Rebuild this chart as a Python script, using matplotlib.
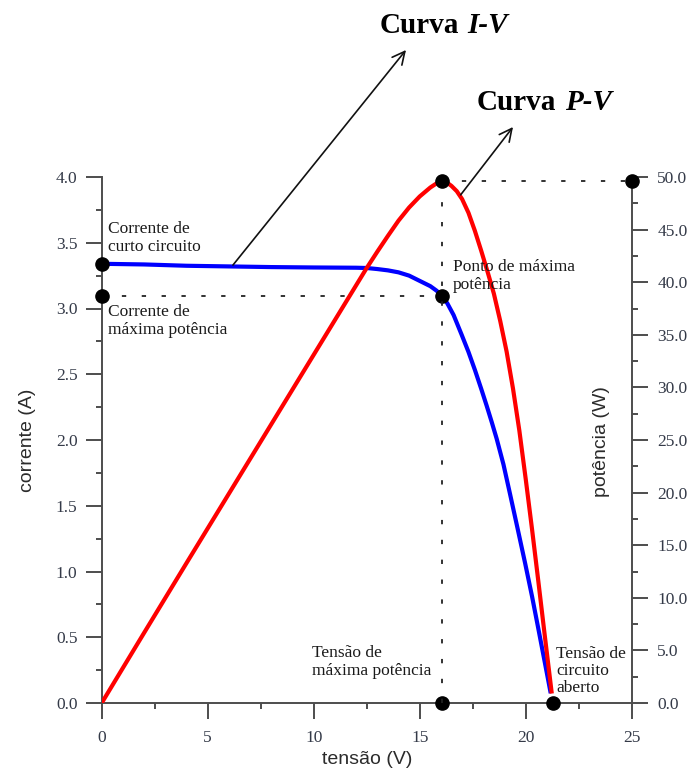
import matplotlib
matplotlib.use('Agg')
import matplotlib.pyplot as plt
from matplotlib.ticker import MultipleLocator, FormatStrFormatter

# ---- data ----
tensao_iv = [0, 2, 4, 6, 8, 10, 12, 12.5, 13, 13.5, 14, 14.5, 15, 15.5, 15.8,
             16.05, 16.3, 16.6, 16.98, 17.3, 17.61, 17.9, 18.16, 18.4, 18.63,
             18.95, 19.26, 19.6, 19.97, 20.3, 20.59, 20.9, 21.18]
corrente = [3.34, 3.335, 3.325, 3.32, 3.315, 3.312, 3.31, 3.308, 3.30, 3.29,
            3.275, 3.25, 3.21, 3.17, 3.135, 3.095, 3.04, 2.95, 2.80, 2.67,
            2.53, 2.39, 2.26, 2.135, 2.01, 1.815, 1.59, 1.34, 1.065, 0.81,
            0.57, 0.31, 0.074]

tensao_pv = [0, 2, 4, 6, 8, 10, 12, 12.5, 13, 13.5, 14, 14.5, 15, 15.5, 15.8,
             16.05, 16.3, 16.5, 16.75, 17.0, 17.3, 17.6, 17.9, 18.2, 18.5,
             18.8, 19.1, 19.4, 19.7, 20.0, 20.3, 20.6, 20.9, 21.23]
potencia = [0, 6.67, 13.3, 19.9, 26.5, 33.1, 39.7, 41.35, 42.9, 44.4, 45.85,
            47.1, 48.15, 49.0, 49.4, 49.6, 49.45, 49.15, 48.65, 47.9, 46.6,
            44.9, 43.0, 41.0, 38.9, 36.3, 33.4, 29.9, 25.9, 21.3, 16.5, 11.5,
            6.4, 0.9]

i_sc = 3.34      # corrente de curto circuito
i_mp = 3.095     # corrente de máxima potência
v_mp = 16.05     # tensão de máxima potência
p_max = 49.6     # potência máxima
v_oc = 21.28     # tensão de circuito aberto

x_ticks = [0, 5, 10, 15, 20, 25]

# ---- figure ----
W, H = 688, 772
plt.rcParams['font.family'] = ['Liberation Serif', 'DejaVu Serif']
fig = plt.figure(figsize=(W / 100, H / 100), dpi=100)

def px(x, y):
    return (x / W, 1 - y / H)

ax = fig.add_axes([101.7 / W, 1 - 703 / H, 530 / W, 526 / H])
ax.set_xlim(0, 25)
ax.set_ylim(0, 4)
ax2 = ax.twinx()
ax2.set_ylim(0, 50)

spine_c = '#4d4d4d'
label_c = '#343a48'
for a in (ax, ax2):
    for s in a.spines.values():
        s.set_visible(False)
        s.set_color(spine_c)
        s.set_linewidth(1.4)
ax.spines['left'].set_visible(True)
ax.spines['bottom'].set_visible(True)
ax2.spines['right'].set_visible(True)

ax.set_xticks(x_ticks)
ax.xaxis.set_minor_locator(MultipleLocator(2.5))
ax.yaxis.set_major_locator(MultipleLocator(0.5))
ax.yaxis.set_minor_locator(MultipleLocator(0.25))
ax.yaxis.set_major_formatter(FormatStrFormatter('%.1f'))
ax2.yaxis.set_major_locator(MultipleLocator(5))
ax2.yaxis.set_minor_locator(MultipleLocator(2.5))
ax2.yaxis.set_major_formatter(FormatStrFormatter('%.1f'))

for a in (ax, ax2):
    a.tick_params(which='major', direction='out', length=11.5, width=1.4,
                  color=spine_c, labelsize=12.5, labelcolor=label_c)
    a.tick_params(which='minor', direction='out', length=4.5, width=1.4,
                  color=spine_c)
ax.tick_params(axis='x', pad=8)
ax.tick_params(axis='y', pad=6)
ax2.tick_params(axis='y', pad=7)

# curves
ax.plot(tensao_iv, corrente, color='#0000ff', lw=3, solid_capstyle='butt',
        solid_joinstyle='round', zorder=3)
ax2.plot(tensao_pv, potencia, color='#ff0000', lw=3, solid_capstyle='butt',
         solid_joinstyle='round', zorder=3)

# guide lines
dash = (0, (2.4, 8.6))
ax.plot([0, v_mp], [i_mp, i_mp], color='#222222', lw=1.3, linestyle=dash, zorder=2)
ax2.plot([v_mp, v_mp], [0, p_max], color='#222222', lw=1.3, linestyle=dash, zorder=2)
ax2.plot([v_mp, 25], [p_max, p_max], color='#222222', lw=1.3, linestyle=dash, zorder=2)

# points
mk = dict(marker='o', ms=9.5, color='black', linestyle='none', clip_on=False, zorder=6)
ax.plot([0], [i_sc], **mk)
ax.plot([0], [i_mp], **mk)
ax.plot([v_mp], [i_mp], **mk)
ax.plot([v_mp], [0], **mk)
ax.plot([v_oc], [0], **mk)
ax2.plot([v_mp], [p_max], **mk)
ax2.plot([25], [p_max], **mk)

# annotations
tk = dict(fontsize=12.5, color='#1a1a1a', linespacing=1.12, va='center', ha='left',
          zorder=7)
fig.text(*px(108, 238), 'Corrente de\ncurto circuito', **tk)
fig.text(*px(108, 321), 'Corrente de\nmáxima potência', **tk)
fig.text(*px(453, 276), 'Ponto de máxima\npotência', **tk)
fig.text(*px(312, 662), 'Tensão de\nmáxima potência', **tk)
fig.text(*px(556, 671), 'Tensão de\ncircuito\naberto', **tk)

# curve titles with arrows
t1 = fig.text(*px(380, 33), 'Curva', fontsize=21, fontweight='bold',
              ha='left', va='baseline', color='black')
ax.annotate('I-V', xy=(1, 0), xycoords=t1, xytext=(6, 0), textcoords='offset points',
            fontsize=21, fontweight='bold', style='italic', ha='left', va='bottom',
            color='black', annotation_clip=False)
t2 = fig.text(*px(477, 110), 'Curva', fontsize=21, fontweight='bold',
              ha='left', va='baseline', color='black')
ax.annotate('P-V', xy=(1, 0), xycoords=t2, xytext=(6, 0), textcoords='offset points',
            fontsize=21, fontweight='bold', style='italic', ha='left', va='bottom',
            color='black', annotation_clip=False)

arrow = dict(arrowstyle='->,head_length=0.9,head_width=0.45', color='#111111', lw=1.2,
             shrinkA=0, shrinkB=0)
ax.annotate('', xy=(406, H - 50), xycoords='figure pixels',
            xytext=(6.19, 3.33), textcoords='data', arrowprops=arrow,
            annotation_clip=False)
ax2.annotate('', xy=(513, H - 127), xycoords='figure pixels',
             xytext=(16.93, 48.3), textcoords='data', arrowprops=arrow,
             annotation_clip=False)

# axis labels
lk = dict(fontsize=14, color='#2b2b2b', family=['Liberation Sans', 'DejaVu Sans'],
          ha='center', va='center')
fig.text(*px(27, 440), 'corrente (A)', rotation=90, **lk)
fig.text(*px(602, 442), 'potência (W)', rotation=90, **lk)
fig.text(*px(367, 760), 'tensão (V)', **lk)

fig.savefig('out.png', dpi=100, facecolor='white')
